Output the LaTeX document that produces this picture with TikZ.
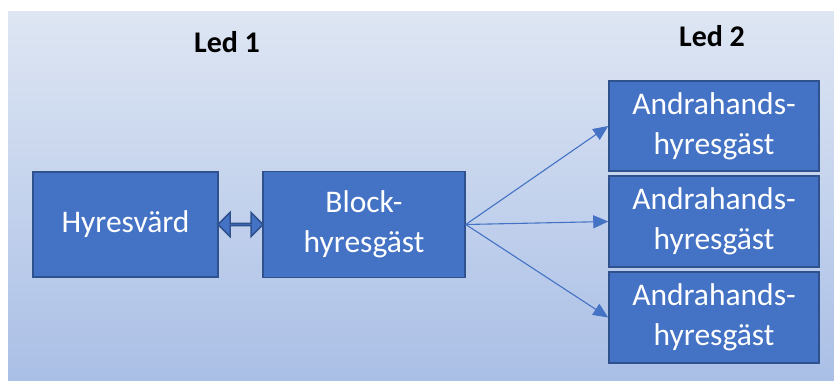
\documentclass[tikz,border=0pt]{standalone}
\usepackage{fontspec}
\setmainfont{Carlito}
\usetikzlibrary{arrows.meta,shapes.arrows,calc}
\definecolor{boxblue}{HTML}{4472C4}
\definecolor{boxedge}{HTML}{2F528F}
\definecolor{bgtop}{HTML}{DEE6F3}
\definecolor{bgbottom}{HTML}{AABFE6}
\tikzset{
  party/.style={rectangle, fill=boxblue, draw=boxedge, line width=1.5pt,
    text=white, align=center, inner sep=0pt,
    font=\fontsize{31.5}{40}\selectfont},
  ledlabel/.style={font=\bfseries\fontsize{30}{32}\selectfont},
  lease/.style={draw=boxblue, line width=1.1pt,
    -{Triangle[length=15pt,width=13pt]}},
  swap/.style={double arrow, fill=boxblue, draw=boxedge, line width=1.5pt,
    inner sep=0pt, minimum height=45pt, minimum width=24pt,
    double arrow head extend=7pt}
}
\begin{document}
\begin{tikzpicture}[x=1pt,y=-1pt]
  \useasboundingbox (0,0) rectangle (834,380);
  \shade[top color=bgtop, bottom color=bgbottom] (8,11) rectangle (834,380);

  \node[ledlabel] (led1) at (227,42) {Led 1};
  \node[ledlabel] (led2) at (712,36) {Led 2};

  \node[party, minimum width=185pt, minimum height=105pt] (hyr) at (125.5,224.5) {Hyresvärd};
  \node[party, minimum width=202pt, minimum height=106pt] (block) at (364,224.5) {Block-\\hyresgäst};
  \node[party, minimum width=210pt, minimum height=90pt] (sub1) at (714,126) {Andrahands-\\hyresgäst};
  \node[party, minimum width=210pt, minimum height=91pt] (sub2) at (714,221.5) {Andrahands-\\hyresgäst};
  \node[party, minimum width=210pt, minimum height=91pt] (sub3) at (714,317.5) {Andrahands-\\hyresgäst};

  \node[swap] (link) at ($(hyr.east)!0.5!(block.west)$) {};

  \begin{scope}[lease]
    \draw (block.east) to (sub1.west);
    \draw (block.east) to (sub2.west);
    \draw (block.east) to (sub3.west);
  \end{scope}
\end{tikzpicture}
\end{document}
